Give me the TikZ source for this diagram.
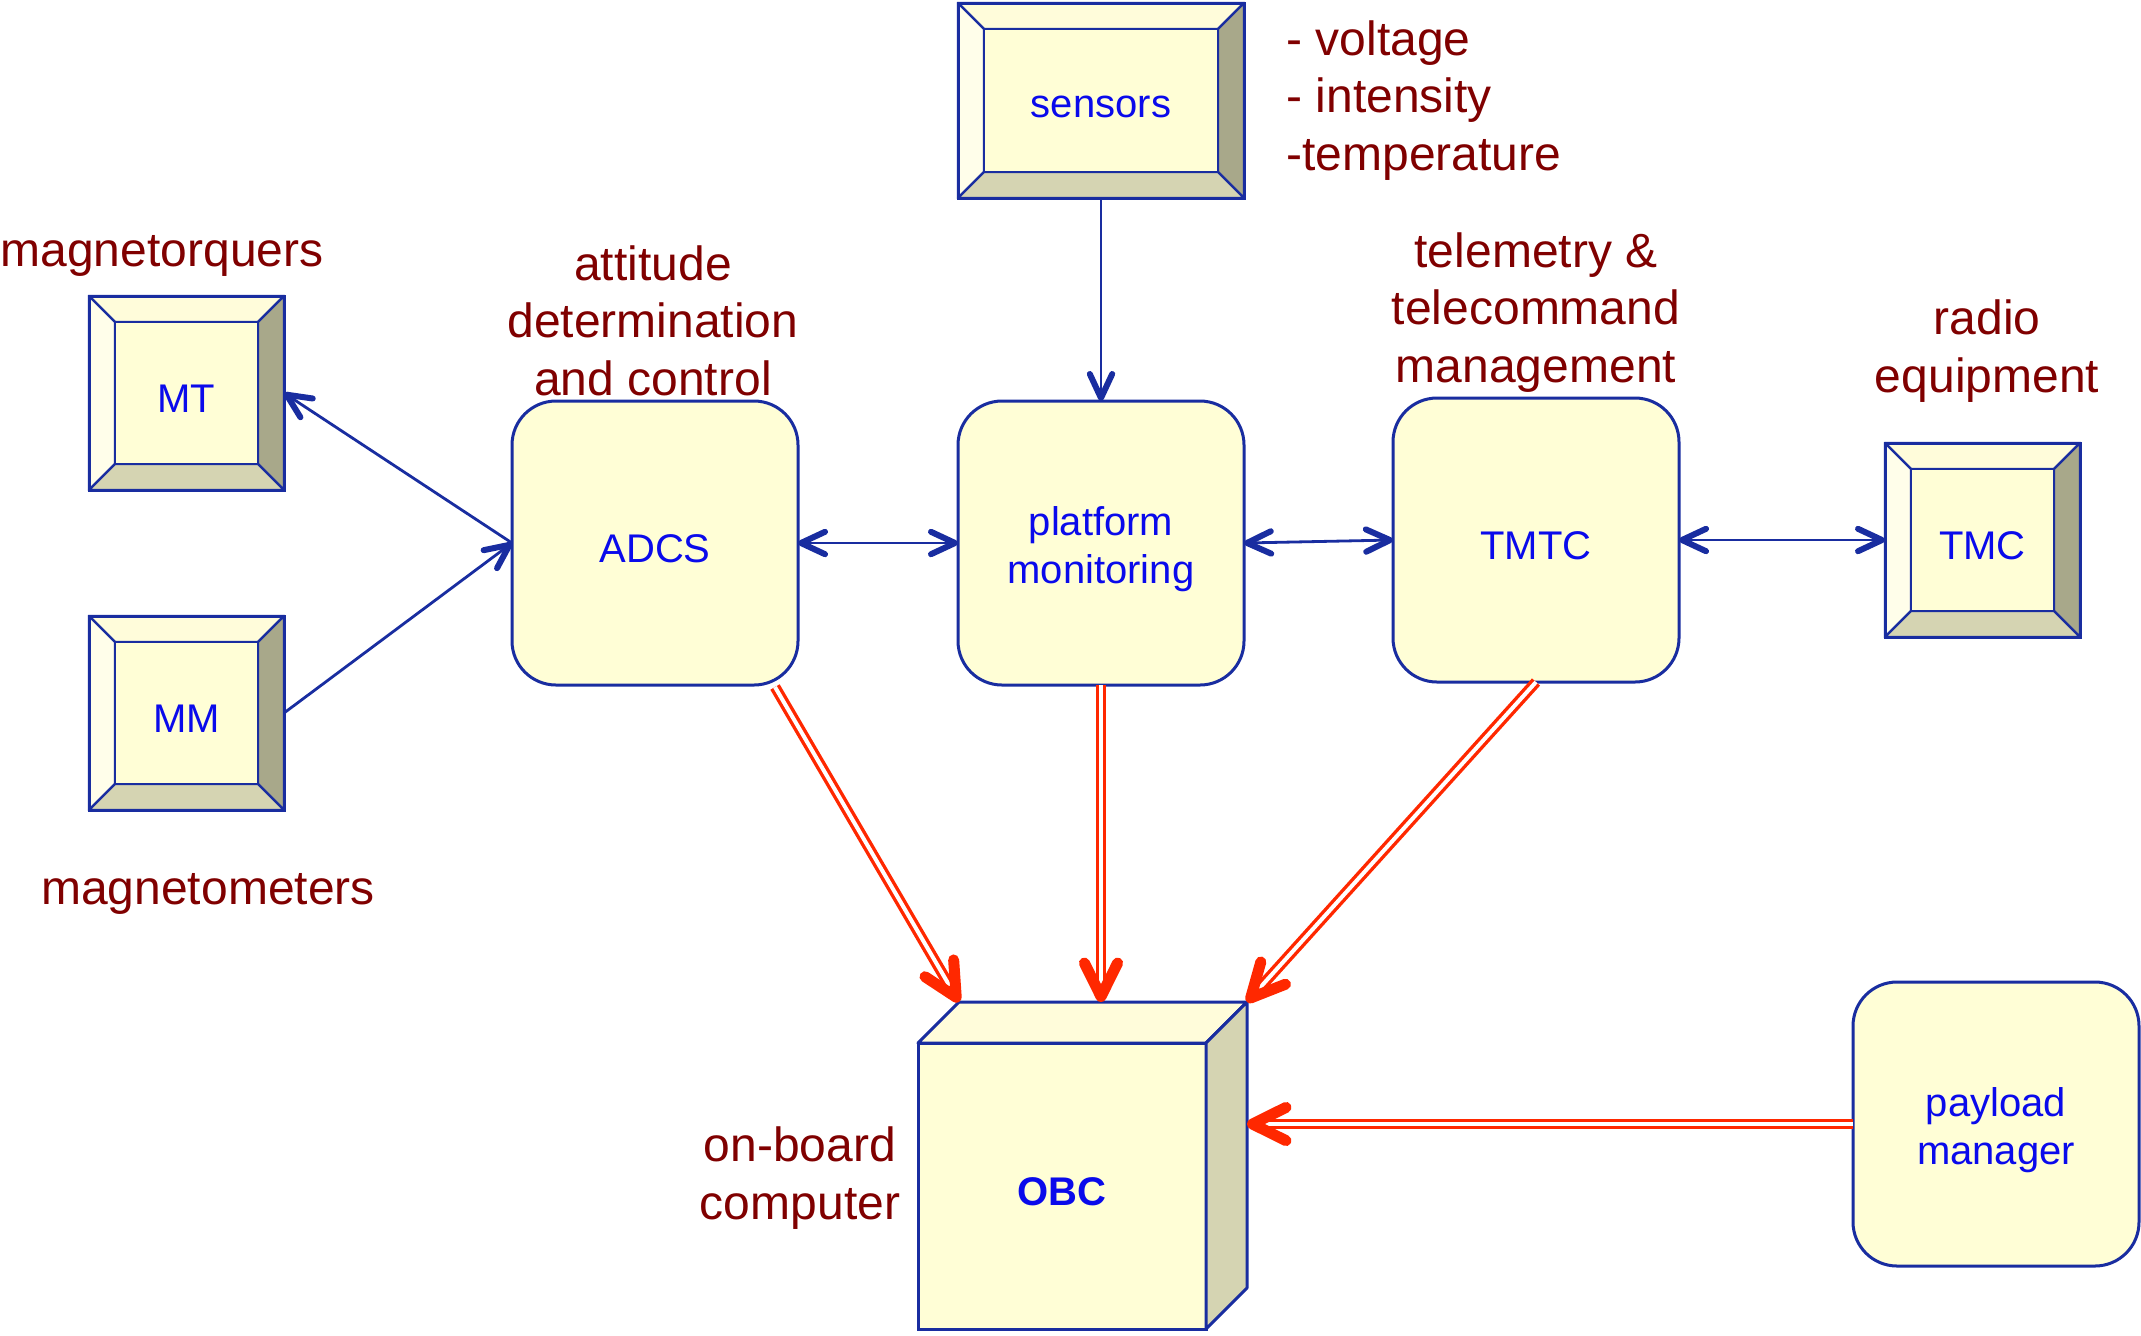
\documentclass[tikz,border=0pt]{standalone}
\usepackage{fontspec}
\setmainfont{Liberation Sans}
\usetikzlibrary{calc,backgrounds,decorations.markings}

\definecolor{boxblue}{RGB}{25,45,160}
\definecolor{txtblue}{RGB}{10,10,235}
\definecolor{lblred}{RGB}{128,0,0}
\definecolor{linkred}{RGB}{255,40,0}
\definecolor{cream}{RGB}{255,254,214}
\definecolor{bvtop}{RGB}{255,252,218}
\definecolor{bvleft}{RGB}{255,254,234}
\definecolor{bvright}{RGB}{168,168,138}
\definecolor{bvbottom}{RGB}{213,212,178}

\newcommand\boxfont{\fontsize{20}{24}\selectfont}
\newcommand\lblfont{\fontsize{24}{28.75}\selectfont}

% bevelled faces of a push-button style box, drawn behind the node
\newcommand\bevelfaces[1]{%
  \begin{scope}[on background layer, face/.style={draw=boxblue, line width=1.2pt, line join=round}]
    \coordinate (#1-inw) at ($(#1.north west)+(13pt,-13pt)$);
    \coordinate (#1-ine) at ($(#1.north east)+(-13pt,-13pt)$);
    \coordinate (#1-isw) at ($(#1.south west)+(13pt,13pt)$);
    \coordinate (#1-ise) at ($(#1.south east)+(-13pt,13pt)$);
    \filldraw[face, fill=bvtop] (#1.north west) -- (#1.north east) -- (#1-ine) -- (#1-inw) -- cycle;
    \filldraw[face, fill=bvleft] (#1.north west) -- (#1-inw) -- (#1-isw) -- (#1.south west) -- cycle;
    \filldraw[face, fill=bvright] (#1.north east) -- (#1.south east) -- (#1-ise) -- (#1-ine) -- cycle;
    \filldraw[face, fill=bvbottom] (#1.south west) -- (#1-isw) -- (#1-ise) -- (#1.south east) -- cycle;
    \filldraw[face, fill=cream] (#1-inw) rectangle (#1-ise);
  \end{scope}}

\tikzset{
  bevel/.style={rectangle, draw=boxblue, line width=1.5pt, inner sep=0pt, outer sep=0pt},
  rbox/.style={rectangle, rounded corners=22pt, draw=boxblue, fill=cream, line width=1.5pt,
    minimum width=143pt, minimum height=142pt, inner sep=0pt, outer sep=0pt},
  cubefront/.style={rectangle, draw=boxblue, fill=cream, line width=1.5pt,
    minimum width=144pt, minimum height=143pt, inner sep=0pt, outer sep=0pt},
  boxtxt/.style={align=center, font=\boxfont, text=txtblue, inner sep=0pt},
  lbl/.style={text=lblred, font=\lblfont, align=center, inner sep=0pt, anchor=base},
  % open chevron heads
  bhead/.style={draw=boxblue, line width=3pt, line cap=round, line join=round},
  rhead/.style={draw=linkred, line width=5.5pt, line cap=round, line join=round},
  bend head/.style={decoration={markings, mark=at position 1 with
      {\draw[bhead] (-13.5pt,5.6pt) -- (-1.5pt,0pt) -- (-13.5pt,-5.6pt);}}},
  bboth heads/.style={decoration={markings,
      mark=at position 0 with {\draw[bhead] (13.5pt,5.6pt) -- (1.5pt,0pt) -- (13.5pt,-5.6pt);},
      mark=at position 1 with {\draw[bhead] (-13.5pt,5.6pt) -- (-1.5pt,0pt) -- (-13.5pt,-5.6pt);}}},
  rend head/.style={decoration={markings, mark=at position 1 with
      {\draw[rhead] (-19.5pt,8.3pt) -- (-2.75pt,0pt) -- (-19.5pt,-8.3pt);}}},
  blink/.style={draw=none,
    preaction={draw=boxblue, line width=1.4pt, shorten >=2pt},
    postaction={bend head, decorate}},
  bboth/.style={draw=none,
    preaction={draw=boxblue, line width=1.4pt, shorten >=2pt, shorten <=2pt},
    postaction={bboth heads, decorate}},
  rlink/.style={draw=none,
    preaction={draw=linkred, line width=1.7pt, double=white, double distance=2pt, shorten >=4pt},
    postaction={rend head, decorate}}
}

\begin{document}
\begin{tikzpicture}[x=0.5pt, y=-0.5pt]
  \useasboundingbox (0,0) rectangle (2141,1335);
  \begin{scope}[on background layer]
    \fill[white] (0,0) rectangle (2141,1335);
  \end{scope}

  % hardware units
  \node[bevel, minimum width=97.5pt, minimum height=97pt] (MT) at (186.5,393) {};
  \bevelfaces{MT}
  \node[bevel, minimum width=97.5pt, minimum height=97pt] (MM) at (186.5,713) {};
  \bevelfaces{MM}
  \node[bevel, minimum width=143pt, minimum height=97.5pt] (sensors) at (1101,100.5) {};
  \bevelfaces{sensors}
  \node[bevel, minimum width=97.5pt, minimum height=97pt] (TMC) at (1982.5,540) {};
  \bevelfaces{TMC}

  % software modules
  \node[rbox] (ADCS) at (655,543) {};
  \node[rbox] (PM) at (1101,543) {};
  \node[rbox] (TMTC) at (1536,540) {};
  \node[rbox] (PL) at (1996,1124) {};

  % on-board computer cube
  \node[cubefront] (OBC) at (1062,1186) {};
  \coordinate (OBC-btl) at ($(OBC.north west)+(20.5pt,20.5pt)$);
  \coordinate (OBC-btr) at ($(OBC.north east)+(20.5pt,20.5pt)$);
  \coordinate (OBC-bbr) at ($(OBC.south east)+(20.5pt,20.5pt)$);
  \filldraw[fill=bvtop, draw=boxblue, line width=1.5pt, line join=round]
    (OBC.north west) -- (OBC-btl) -- (OBC-btr) -- (OBC.north east) -- cycle;
  \filldraw[fill=bvbottom, draw=boxblue, line width=1.5pt, line join=round]
    (OBC.north east) -- (OBC-btr) -- (OBC-bbr) -- (OBC.south east) -- cycle;

  % box texts
  \node[boxtxt] (MT-t) at ($(MT)+(0,6)$) {MT};
  \node[boxtxt] (MM-t) at ($(MM)+(0,6)$) {MM};
  \node[boxtxt] (sensors-t) at ($(sensors)+(0,6)$) {sensors};
  \node[boxtxt] (TMC-t) at ($(TMC)+(0,6)$) {TMC};
  \node[boxtxt] (ADCS-t) at ($(ADCS)+(0,6)$) {ADCS};
  \node[boxtxt] (PM-t) at ($(PM)+(0,6)$) {platform\\monitoring};
  \node[boxtxt] (TMTC-t) at ($(TMTC)+(0,6)$) {TMTC};
  \node[boxtxt] (PL-t) at ($(PL)+(0,6)$) {payload\\manager};
  \node[boxtxt, font=\boxfont\bfseries] (OBC-t) at ($(OBC)+(0,6)$) {OBC};

  % captions (base anchor sits on the last line)
  \node[lbl] (lMT) at (162,266) {magnetorquers};
  \node[lbl] (lMM) at (208,904) {magnetometers};
  \node[lbl] (lADCS) at (653,395) {attitude\\determination\\and control};
  \node[lbl, align=left, anchor=base west] (lsens) at (1286,170) {- voltage\\- intensity\\-temperature};
  \node[lbl] (lTMTC) at (1536,382) {telemetry \&\\telecommand\\management};
  \node[lbl] (lTMC) at (1987,392) {radio\\equipment};
  \node[lbl] (lOBC) at (800,1219) {on-board\\computer};

  % data links
  \draw[blink] (sensors.south) -- (PM.north);
  \draw[bboth] (ADCS.east) -- (PM.west);
  \draw[bboth] (PM.east) -- (TMTC.west);
  \draw[bboth] (TMTC.east) -- (TMC.west);
  \draw[blink] (ADCS.west) -- (MT.east);
  \draw[blink] (MM.east) -- (ADCS.west);

  % links to the on-board computer
  \coordinate (ADCS-out) at ($(ADCS.south east)+(-11.5pt,-1pt)$);
  \draw[rlink] (ADCS-out) -- (OBC-btl);
  \draw[rlink] (PM.south) -- (PM.south |- OBC-btr);
  \draw[rlink] (TMTC.south) -- (OBC-btr);
  \draw[rlink] (PL.west) -- (OBC-btr |- PL.west);
\end{tikzpicture}
\end{document}
